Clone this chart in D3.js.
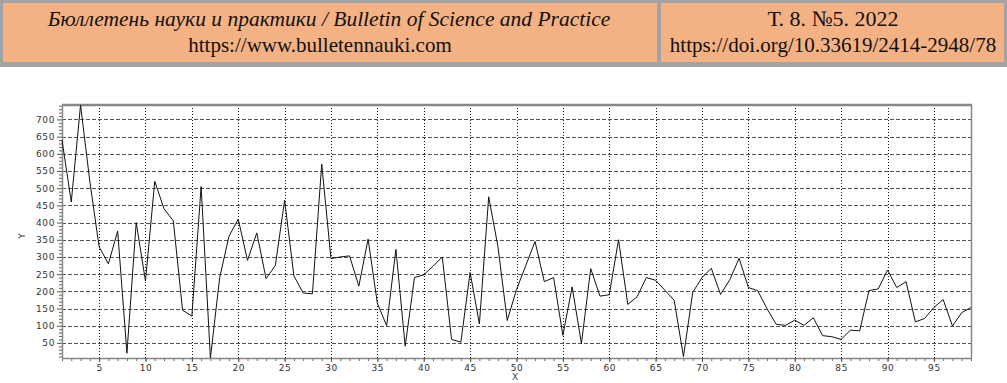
<!DOCTYPE html>
<html lang="ru">
<head>
<meta charset="utf-8">
<title>Bulletin chart</title>
<script src="https://d3js.org/d3.v7.min.js"></script>
<style>
  body { margin: 0; background: #fff; }
  .head1 { font-family: "Liberation Serif", serif; font-size: 21.5px; font-style: italic; fill: #111; }
  .head2 { font-family: "Liberation Serif", serif; font-size: 21px; fill: #111; }
  .head3 { font-family: "Liberation Serif", serif; font-size: 22px; fill: #111; }
  .tick text { font-family: "DejaVu Sans", sans-serif; font-size: 9px; fill: #333; letter-spacing: 0.6px; }
  .axlabel { font-family: "DejaVu Sans", sans-serif; font-size: 9px; fill: #444; }
</style>
</head>
<body>
<div id="vis"></div>
<script>
const width = 1007;
const height = 383;

// header texts
const headLeft = ["Бюллетень науки и практики / Bulletin of Science and Practice", "https://www.bulletennauki.com"];
const headRight = ["Т. 8. №5. 2022", "https://doi.org/10.33619/2414-2948/78"];

// series values, x = 1..99
const yValues = [
  640, 460, 742, 520, 330, 280, 375, 20, 400, 230,
  520, 440, 405, 145, 128, 505, 6, 240, 360, 410,
  290, 370, 237, 275, 465, 245, 195, 193, 570, 295,
  300, 303, 215, 352, 165, 100, 322, 40, 240, 248,
  273, 300, 60, 52, 255, 105, 475, 330, 115, 205,
  275, 345, 228, 240, 72, 213, 48, 266, 186, 190,
  350, 162, 184, 240, 232, 203, 174, 10, 197, 240,
  267, 191, 234, 296, 211, 202, 150, 104, 101, 116,
  101, 123, 71, 68, 60, 87, 85, 202, 207, 262,
  211, 228, 111, 121, 153, 176, 99, 138, 153
];
const xTicks = [5, 10, 15, 20, 25, 30, 35, 40, 45, 50, 55, 60, 65, 70, 75, 80, 85, 90, 95];
const xMinor = yValues.map((v, i) => i + 1);
const yTicks = [50, 100, 150, 200, 250, 300, 350, 400, 450, 500, 550, 600, 650, 700];
const yMinor = [10, 20, 30, 40, 60, 70, 80, 90, 110, 120, 130, 140, 160, 170, 180, 190, 210, 220, 230, 240,
  260, 270, 280, 290, 310, 320, 330, 340, 360, 370, 380, 390, 410, 420, 430, 440, 460, 470, 480, 490,
  510, 520, 530, 540, 560, 570, 580, 590, 610, 620, 630, 640, 660, 670, 680, 690, 710, 720, 730, 740];

const data = yValues.map((v, i) => ({ x: i + 1, y: v }));

const plotLeft = 62, plotRight = 971, plotTop = 105, plotBottom = 358;

const svg = d3.select("#vis").append("svg")
  .attr("width", width)
  .attr("height", height);

// header table
svg.append("rect").attr("x", 0).attr("y", 0).attr("width", width).attr("height", 67).attr("fill", "#a3a3a3");
svg.append("rect").attr("x", 3).attr("y", 3).attr("width", 654).attr("height", 59).attr("fill", "#f4b184");
svg.append("rect").attr("x", 661).attr("y", 3).attr("width", 343).attr("height", 59).attr("fill", "#f4b184");

svg.append("text").attr("class", "head1").attr("x", 329).attr("y", 26).attr("text-anchor", "middle").text(headLeft[0]);
svg.append("text").attr("class", "head2").attr("x", 320).attr("y", 52).attr("text-anchor", "middle").text(headLeft[1]);
svg.append("text").attr("class", "head3").attr("x", 833).attr("y", 26).attr("text-anchor", "middle").text(headRight[0]);
svg.append("text").attr("class", "head2").attr("x", 833).attr("y", 52).attr("text-anchor", "middle").text(headRight[1]);

const xScale = d3.scaleLinear()
  .domain(d3.extent(data, d => d.x))
  .range([plotLeft, plotRight]);

const yScale = d3.scaleLinear()
  .domain(d3.extent(data, d => d.y))
  .range([plotBottom, plotTop]);

// horizontal dashed grid
svg.append("g").selectAll("line")
  .data(yTicks)
  .enter().append("line")
  .attr("x1", plotLeft).attr("x2", plotRight)
  .attr("y1", d => Math.round(yScale(d)) + 0.5)
  .attr("y2", d => Math.round(yScale(d)) + 0.5)
  .attr("stroke", "#555")
  .attr("stroke-dasharray", "4,2");

// vertical dotted grid
svg.append("g").selectAll("line")
  .data(xTicks)
  .enter().append("line")
  .attr("x1", d => Math.round(xScale(d)) + 0.5)
  .attr("x2", d => Math.round(xScale(d)) + 0.5)
  .attr("y1", plotTop).attr("y2", plotBottom)
  .attr("stroke", "#111")
  .attr("stroke-dasharray", "1,2");

// minor ticks
svg.append("g")
  .attr("transform", "translate(0," + plotBottom + ")")
  .call(d3.axisBottom(xScale).tickValues(xMinor).tickSize(3).tickFormat(""))
  .call(g => g.select(".domain").remove())
  .selectAll("line").attr("stroke", "#666");

svg.append("g")
  .attr("transform", "translate(" + plotLeft + ",0)")
  .call(d3.axisLeft(yScale).tickValues(yMinor.filter(v => v >= yScale.domain()[0] && v <= yScale.domain()[1])).tickSize(3).tickFormat(""))
  .call(g => g.select(".domain").remove())
  .selectAll("line").attr("stroke", "#666");

// major axes
const bottomAxis = d3.axisBottom(xScale).tickValues(xTicks).tickSize(4).tickPadding(3).tickSizeOuter(0);
const leftAxis = d3.axisLeft(yScale).tickValues(yTicks).tickSize(5).tickPadding(2).tickSizeOuter(0);

svg.append("g")
  .attr("transform", "translate(0," + plotBottom + ")")
  .call(bottomAxis)
  .call(g => g.select(".domain").attr("stroke", "#888").attr("stroke-width", 1.5))
  .call(g => g.selectAll(".tick line").attr("stroke", "#555"));

svg.append("g")
  .attr("transform", "translate(" + plotLeft + ",0)")
  .call(leftAxis)
  .call(g => g.select(".domain").attr("stroke", "#888").attr("stroke-width", 1.5))
  .call(g => g.selectAll(".tick line").attr("stroke", "#555"));

// frame top and right
svg.append("line").attr("x1", plotLeft).attr("x2", plotRight + 1).attr("y1", plotTop).attr("y2", plotTop)
  .attr("stroke", "#888").attr("stroke-width", 2.5);
svg.append("line").attr("x1", plotRight + 0.5).attr("x2", plotRight + 0.5).attr("y1", plotTop).attr("y2", plotBottom)
  .attr("stroke", "#888").attr("stroke-width", 1.5);

// the series
svg.append("path")
  .datum(data)
  .attr("fill", "none")
  .attr("stroke", "#111")
  .attr("stroke-width", 1)
  .attr("d", d3.line().x(d => xScale(d.x)).y(d => yScale(d.y)));

// axis labels
svg.append("text").attr("class", "axlabel")
  .attr("x", 515).attr("y", 380).attr("text-anchor", "middle").text("X");
svg.append("text").attr("class", "axlabel")
  .attr("transform", "translate(25,236) rotate(-90)")
  .attr("text-anchor", "middle").text("Y");
</script>
</body>
</html>
